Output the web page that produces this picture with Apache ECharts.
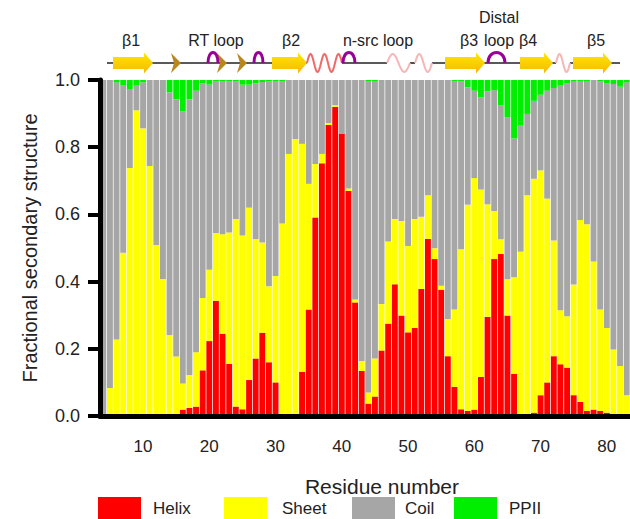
<!DOCTYPE html>
<html>
<head>
<meta charset="utf-8">
<script src="https://cdn.jsdelivr.net/npm/echarts@6/dist/echarts.min.js"></script>
<style>
  html, body { margin: 0; padding: 0; background: #fff; }
  #chart { width: 630px; height: 519px; }
</style>
</head>
<body>
<div id="chart"></div>
<script>
// residues 4..83
const residues = [];
for (let r = 4; r <= 83; r++) residues.push(String(r));

const helix = [
  0, 0, 0, 0, 0, 0, 0, 0, 0, 0, 0, 0,
  0.019, 0.024, 0.028, 0.136, 0.223, 0.343, 0.245, 0.155, 0.028, 0.020,
  0.107, 0.171, 0.248, 0.160, 0.100, 0, 0, 0, 0.132, 0.317,
  0.591, 0.752, 0.866, 0.920, 0.841, 0.670, 0.338, 0.134, 0.037, 0.058,
  0.195, 0.275, 0.392, 0.299, 0.249, 0.262, 0.378, 0.527, 0.467, 0.376,
  0.178, 0.087, 0.020, 0.015, 0.019, 0.116, 0.295, 0.467, 0.482, 0.299,
  0.126, 0.003, 0.005, 0.010, 0.062, 0.100, 0.178, 0.154, 0.144, 0.062,
  0.042, 0.015, 0.019, 0.015, 0.010, 0, 0, 0
];
const sheet = [
  0, 0.083, 0.228, 0.486, 0.738, 0.910, 0.856, 0.744, 0.509, 0.408, 0.241, 0.177,
  0.078, 0.098, 0.162, 0.215, 0.212, 0.202, 0.296, 0.391, 0.558, 0.517,
  0.513, 0.356, 0.268, 0.226, 0.317, 0.573, 0.780, 0.824, 0.678, 0.374,
  0.159, 0.028, 0.006, 0.005, 0, 0.007, 0.009, 0.030, 0.033, 0.113,
  0.138, 0.244, 0.194, 0.281, 0.257, 0.324, 0.215, 0.130, 0.032, 0.012,
  0.111, 0.230, 0.476, 0.614, 0.689, 0.558, 0.335, 0.143, 0.044, 0.108,
  0.287, 0.486, 0.652, 0.696, 0.669, 0.547, 0.344, 0.161, 0.153, 0.329,
  0.541, 0.556, 0.441, 0.302, 0.252, 0.198, 0.149, 0.062
];
const coil = [
  1.000, 0.917, 0.765, 0.497, 0.235, 0.073, 0.137, 0.256, 0.491, 0.592, 0.722, 0.766,
  0.810, 0.821, 0.778, 0.639, 0.551, 0.451, 0.455, 0.450, 0.410, 0.449,
  0.366, 0.463, 0.478, 0.610, 0.579, 0.423, 0.220, 0.176, 0.190, 0.309,
  0.250, 0.220, 0.128, 0.075, 0.159, 0.323, 0.653, 0.836, 0.926, 0.825,
  0.667, 0.481, 0.414, 0.420, 0.494, 0.414, 0.407, 0.343, 0.501, 0.612,
  0.711, 0.679, 0.500, 0.349, 0.260, 0.274, 0.336, 0.360, 0.398, 0.482,
  0.413, 0.375, 0.242, 0.232, 0.225, 0.321, 0.454, 0.668, 0.693, 0.606,
  0.414, 0.426, 0.540, 0.679, 0.728, 0.790, 0.831, 0.931
];
const ppii = [
  0, 0, 0.007, 0.017, 0.027, 0.017, 0.007, 0, 0, 0, 0.037, 0.057,
  0.093, 0.057, 0.032, 0.010, 0.014, 0.004, 0.004, 0.004, 0.004, 0.014,
  0.014, 0.010, 0.006, 0.004, 0.004, 0.004, 0, 0, 0, 0,
  0, 0, 0, 0, 0, 0, 0, 0, 0.004, 0.004,
  0, 0, 0, 0, 0, 0, 0, 0, 0, 0,
  0, 0.004, 0.004, 0.022, 0.032, 0.052, 0.034, 0.030, 0.076, 0.111,
  0.174, 0.136, 0.101, 0.062, 0.044, 0.032, 0.024, 0.017, 0.010, 0.003,
  0.003, 0.003, 0, 0.004, 0.010, 0.012, 0.020, 0.007
];

const yTicks = [0, 0.2, 0.4, 0.6, 0.8, 1.0];

const FONT = '"Liberation Sans", Arial, sans-serif';
const chart = echarts.init(document.getElementById('chart'), null, { renderer: 'svg' });

// ─── structure cartoon above the plot ───
const LINE_Y = 63;
const cartoon = [];

function seg(x0, x1) {
  cartoon.push({ type: 'line', shape: { x1: x0, y1: LINE_Y, x2: x1, y2: LINE_Y },
    style: { stroke: '#222', lineWidth: 1.6 } });
}
function strand(x0, x1) {
  const h = x1 - 9;
  cartoon.push({ type: 'polygon',
    shape: { points: [[x0, 57], [h, 57], [h, 52.5], [x1, LINE_Y], [h, 73.5], [h, 69], [x0, 69]] },
    style: { fill: { type: 'linear', x: 0, y: 0, x2: 0, y2: 1,
      colorStops: [{ offset: 0, color: '#ffe800' }, { offset: 1, color: '#f5b800' }] } } });
}
function turn(x) {
  cartoon.push({ type: 'polygon',
    shape: { points: [[x, 53], [x + 10, LINE_Y], [x, 73], [x + 3, LINE_Y]] },
    style: { fill: '#b8861c' } });
}
function bump(x0, x1) {
  cartoon.push({ type: 'bezierCurve',
    shape: { x1: x0, y1: LINE_Y, x2: x1, y2: LINE_Y, cpx1: x0, cpy1: 49, cpx2: x1, cpy2: 49 },
    style: { stroke: '#990099', lineWidth: 3, fill: null } });
}
function wave(x0, x1, periods, color) {
  const pts = [];
  const n = 40;
  for (let i = 0; i <= n; i++) {
    const t = i / n;
    pts.push([x0 + (x1 - x0) * t, LINE_Y - 9 * Math.sin(t * periods * 2 * Math.PI)]);
  }
  cartoon.push({ type: 'polyline', shape: { points: pts },
    style: { stroke: color, lineWidth: 2, fill: null } });
}
function label(text, x, y) {
  cartoon.push({ type: 'text', x: x, y: y,
    style: { text: text, fill: '#222', font: '16px ' + FONT, align: 'center', verticalAlign: 'middle' } });
}

seg(107, 307); seg(342, 387); seg(410, 415); seg(432, 556); seg(570, 620);
strand(113, 153);
turn(171); turn(217); turn(237);
bump(208, 218); bump(254, 263);
strand(272, 307);
wave(307, 342, 2.5, '#f06868');
bump(343, 355);
wave(387, 410, 1, '#f6b6b6');
wave(415, 432, 1, '#f6b6b6');
strand(445, 485);
bump(488, 505);
strand(520, 553);
wave(556, 570, 1, '#f6b6b6');
strand(573, 612);

label('\u03b21', 131, 40);
label('RT loop', 216, 40);
label('\u03b22', 291, 40);
label('n-src loop', 378, 40);
label('Distal', 499, 17);
label('\u03b23', 469, 40);
label('loop', 499, 40);
label('\u03b24', 528, 40);
label('\u03b25', 596, 40);

const tenth = (idx, val) => Number(val) % 10 === 0;

function legendAt(name, left, gap) {
  return {
    data: [name], left: left, top: 497, itemWidth: 43, itemHeight: 22,
    icon: 'rect', padding: 0,
    textStyle: { fontSize: 17, fontFamily: FONT, color: '#222', padding: [0, 0, 0, gap] }
  };
}

function bar(name, data, color) {
  return {
    name: name, type: 'bar', stack: 'total', data: data,
    barCategoryGap: '11%', itemStyle: { color: color }, emphasis: { disabled: true }
  };
}

chart.setOption({
  animation: false,
  backgroundColor: '#fff',
  grid: { left: 100, right: 0, top: 80, bottom: 103 },
  legend: [
    legendAt('Helix', 98, 7),
    legendAt('Sheet', 224, 10),
    legendAt('Coil', 352, 5),
    legendAt('PPII', 454, 7)
  ],
  xAxis: {
    type: 'category', data: residues, z: 5,
    name: 'Residue number', nameLocation: 'middle', nameGap: 60,
    nameTextStyle: { fontSize: 21, fontFamily: FONT, color: '#222', padding: [0, 0, 0, 34] },
    axisLine: { lineStyle: { color: '#000', width: 5 } },
    axisTick: { alignWithLabel: true, interval: tenth, length: 12, lineStyle: { color: '#000', width: 4 } },
    axisLabel: { interval: tenth, margin: 22, fontSize: 17, fontFamily: FONT, color: '#222' }
  },
  yAxis: {
    type: 'value', min: 0, max: 1, interval: 0.2, z: 5,
    name: 'Fractional secondary structure', nameLocation: 'middle', nameGap: 60, nameRotate: 90,
    nameTextStyle: { fontSize: 20, fontFamily: FONT, color: '#222' },
    axisLine: { show: true, lineStyle: { color: '#000', width: 5 } },
    axisTick: { show: true, length: 12, lineStyle: { color: '#000', width: 4 } },
    axisLabel: { margin: 20, fontSize: 18, fontFamily: FONT, color: '#222',
      formatter: v => yTicks.includes(Number(v.toFixed(1))) ? v.toFixed(1) : '' },
    splitLine: { show: false }
  },
  series: [
    bar('Helix', helix, '#ff0000'),
    bar('Sheet', sheet, '#ffff00'),
    bar('Coil', coil, '#a6a6a6'),
    bar('PPII', ppii, '#00ee00')
  ],
  graphic: cartoon
});
</script>
</body>
</html>
